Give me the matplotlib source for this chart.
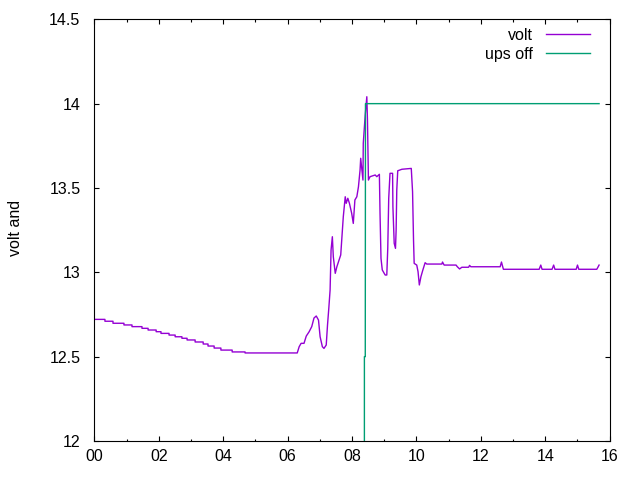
import numpy as np
import matplotlib
matplotlib.use("Agg")
import matplotlib.pyplot as plt
from matplotlib.ticker import MultipleLocator, FuncFormatter

# hours since midnight / battery voltage
volt_t = [0.00, 0.33, 0.33, 0.58, 0.58, 0.92, 0.92, 1.17, 1.17, 1.48, 1.48, 1.67, 1.67,
          1.92, 1.92, 2.07, 2.07, 2.32, 2.32, 2.51, 2.51, 2.72, 2.72, 2.88, 2.88, 3.13,
          3.13, 3.38, 3.38, 3.53, 3.53, 3.72, 3.72, 3.93, 3.93, 4.28, 4.28, 4.68, 4.68,
          6.30, 6.36, 6.42, 6.51, 6.58, 6.67, 6.75, 6.82, 6.89, 6.96, 7.01, 7.08, 7.13,
          7.20, 7.24, 7.28, 7.32, 7.35, 7.39, 7.42, 7.48, 7.53, 7.58, 7.65, 7.73, 7.79,
          7.82, 7.87, 7.92, 7.99, 8.04, 8.09, 8.15, 8.20, 8.25, 8.27, 8.34, 8.35, 8.41,
          8.46, 8.48, 8.51, 8.56, 8.72, 8.77, 8.85, 8.87, 8.90, 8.94, 9.03, 9.08, 9.11,
          9.14, 9.18, 9.26, 9.27, 9.31, 9.35, 9.37, 9.39, 9.42, 9.55, 9.84, 9.88, 9.91,
          9.93, 10.01, 10.05, 10.09, 10.14, 10.20, 10.27, 10.32, 10.79, 10.81, 10.86,
          11.23, 11.27, 11.34, 11.41, 11.62, 11.65, 11.69, 12.60, 12.64, 12.70, 13.81,
          13.86, 13.90, 14.21, 14.26, 14.30, 14.96, 15.00, 15.04, 15.60, 15.67]
volt_v = [12.721, 12.721, 12.710, 12.710, 12.698, 12.698, 12.688, 12.688, 12.678, 12.678,
          12.668, 12.668, 12.658, 12.658, 12.648, 12.648, 12.638, 12.638, 12.628, 12.628,
          12.618, 12.618, 12.609, 12.609, 12.599, 12.599, 12.587, 12.587, 12.575, 12.575,
          12.563, 12.563, 12.551, 12.551, 12.539, 12.539, 12.528, 12.528, 12.522, 12.522,
          12.559, 12.579, 12.579, 12.622, 12.648, 12.678, 12.729, 12.741, 12.717, 12.618,
          12.559, 12.549, 12.569, 12.688, 12.787, 12.895, 13.132, 13.211, 13.092, 12.994,
          13.033, 13.063, 13.103, 13.330, 13.448, 13.409, 13.439, 13.409, 13.350, 13.290,
          13.429, 13.448, 13.507, 13.606, 13.676, 13.547, 13.765, 13.932, 14.041, 13.903,
          13.547, 13.567, 13.577, 13.567, 13.581, 13.350, 13.083, 13.014, 12.984, 12.984,
          13.142, 13.439, 13.587, 13.587, 13.389, 13.172, 13.142, 13.251, 13.488, 13.602,
          13.611, 13.616, 13.478, 13.191, 13.053, 13.043, 13.004, 12.925, 12.974, 13.014,
          13.057, 13.049, 13.049, 13.061, 13.043, 13.043, 13.033, 13.020, 13.030, 13.030,
          13.041, 13.033, 13.033, 13.061, 13.018, 13.018, 13.043, 13.018, 13.018, 13.043,
          13.018, 13.018, 13.043, 13.018, 13.018, 13.043]

# ups off flag (scaled), below the plot range before the outage
ups_t = [0.00, 8.380, 8.385, 8.412, 8.418, 8.43, 15.67]
ups_v = [0.0, 0.0, 12.5, 12.5, 14.0, 14.0, 14.0]

plt.rcParams["font.family"] = ["Liberation Sans", "DejaVu Sans"]
plt.rcParams["font.size"] = 11.5

fig = plt.figure(figsize=(6.4, 4.8), dpi=100)
ax = fig.add_axes([94.3 / 640, 1 - 441 / 480, (609.7 - 94.3) / 640, (441 - 19.3) / 480])

ax.plot(volt_t, volt_v, color="#9400D3", lw=1, label="volt")
ax.plot(ups_t, ups_v, color="#009E73", lw=1, label="ups off")

ax.set_xlim(0, 16)
ax.set_ylim(12, 14.5)
ax.xaxis.set_major_locator(MultipleLocator(2))
ax.xaxis.set_minor_locator(MultipleLocator(1))
ax.xaxis.set_major_formatter(FuncFormatter(lambda v, p: "%02d" % int(round(v))))
ax.yaxis.set_major_locator(MultipleLocator(0.5))
ax.yaxis.set_major_formatter(FuncFormatter(lambda v, p: "%g" % v))

ax.tick_params(which="both", direction="in", top=True, right=True, width=0.8)
ax.tick_params(which="major", length=3.6)
ax.tick_params(which="minor", length=1.8)
ax.tick_params(axis="x", which="major", pad=6)
ax.tick_params(axis="y", which="major", pad=10)
for s in ax.spines.values():
    s.set_linewidth(0.8)

fig.text(15 / 640, 1 - 228 / 480, "volt and", rotation=90, ha="center", va="center")

ax.legend(loc="upper right", bbox_to_anchor=(590 / 640, 1 - 28 / 480),
          bbox_transform=fig.transFigure, frameon=False, markerfirst=False,
          handlelength=2.75, handletextpad=0.85, labelspacing=0.25,
          borderpad=0, borderaxespad=0)

fig.savefig("out.png", dpi=100)
